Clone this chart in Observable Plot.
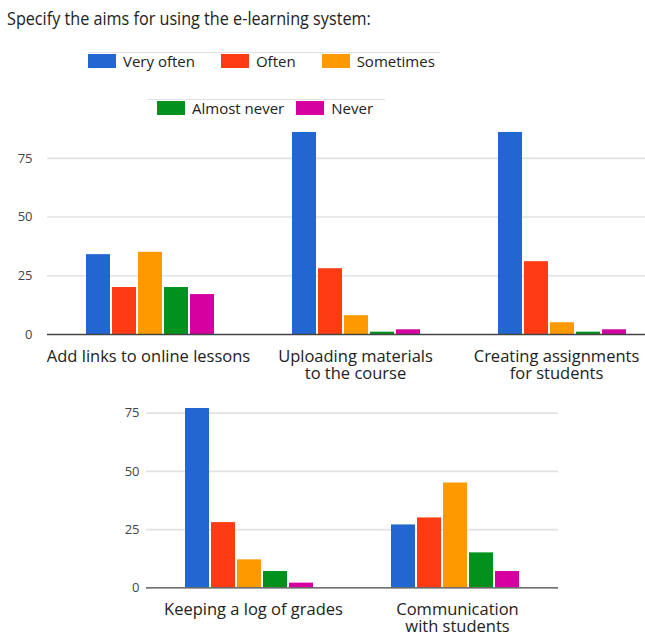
<!DOCTYPE html>
<html>
<head>
<meta charset="utf-8">
<script src="https://cdn.jsdelivr.net/npm/d3@7"></script>
<script src="https://cdn.jsdelivr.net/npm/@observablehq/plot@0.6"></script>
<style>
  body { margin: 0; width: 645px; height: 632px; overflow: hidden; position: relative; background: #fff; font-family: "Open Sans", sans-serif; color: #222; }
  #title { position: absolute; left: 7px; top: 5px; font-size: 18.5px; white-space: nowrap; transform: scaleX(0.875); transform-origin: left center; }
  .legend-row { position: absolute; display: flex; align-items: center; border-top: 1px solid #e0e0e0; font-size: 15px; white-space: nowrap; box-sizing: border-box; }
  .legend-item { display: flex; align-items: center; }
  .swatch { width: 28px; height: 14px; margin-right: 7px; }
  .panel { position: absolute; left: 0; }
</style>
</head>
<body>
<div id="title">Specify the aims for using the e-learning system:</div>
<div id="legend1" class="legend-row" style="left:88px; top:52px; width:352px; height:17px; gap:26px;"></div>
<div id="legend2" class="legend-row" style="left:148px; top:99px; width:237px; height:16px; gap:12px; padding-left:9px;"></div>
<div id="panelTop" class="panel" style="top:120px;"></div>
<div id="panelBottom" class="panel" style="top:390px;"></div>
<script>
// Answer options and their colours
const series = ["Very often", "Often", "Sometimes", "Almost never", "Never"];
const colors = ["#2166d1", "#ff3b14", "#ff9900", "#00921c", "#d5009f"];

// Aims, split across two panels (line breaks as they are set under the bars)
const aimsTop = ["Add links to online lessons", "Uploading materials\nto the course", "Creating assignments\nfor students"];
const aimsBottom = ["Keeping a log of grades", "Communication\nwith students"];

// Number of answers per option, in the order of aimsTop then aimsBottom
const veryOften   = [34, 86, 86, 77, 27];
const often       = [20, 28, 31, 28, 30];
const sometimes   = [35, 8, 5, 12, 45];
const almostNever = [20, 1, 1, 7, 15];
const never       = [17, 2, 2, 2, 7];

const yTicks = [0, 25, 50, 75];

const valuesBySeries = [veryOften, often, sometimes, almostNever, never];

function rowsFor(aims, offset) {
  const rows = [];
  aims.forEach((aim, i) => {
    series.forEach((s, j) => rows.push({aim, series: s, value: valuesBySeries[j][offset + i]}));
  });
  return rows;
}

function legendRow(el, names) {
  for (const name of names) {
    const item = document.createElement("div");
    item.className = "legend-item";
    const sw = document.createElement("div");
    sw.className = "swatch";
    sw.style.background = colors[series.indexOf(name)];
    const label = document.createElement("span");
    label.textContent = name;
    item.append(sw, label);
    el.append(item);
  }
}
legendRow(document.getElementById("legend1"), series.slice(0, 3));
legendRow(document.getElementById("legend2"), series.slice(3));

function panel(aims, data, o) {
  // one text mark per category label, so a label near the edge can be nudged inward
  const labels = aims.map((aim, i) => Plot.text([aim], {
    fx: d => d, text: d => d, frameAnchor: "bottom", lineAnchor: "top",
    dy: 15, dx: (o.labelDx && o.labelDx[i]) || 0,
    fontSize: 16.5, lineHeight: 1.05, fill: "#222"
  }));
  return Plot.plot({
    width: o.width,
    height: o.height,
    marginTop: o.marginTop,
    marginBottom: o.marginBottom,
    marginLeft: o.marginLeft,
    marginRight: o.marginRight,
    style: {fontFamily: "Open Sans, sans-serif", background: "transparent", maxWidth: "none", overflow: "visible"},
    fx: {domain: aims, padding: 0, label: null, axis: null},
    x: {domain: series, paddingInner: 0.06, paddingOuter: 1.4, axis: null},
    y: {domain: [0, o.yMax], label: null, axis: null},
    color: {domain: series, range: colors},
    marks: [
      Plot.ruleY(yTicks.slice(1), {stroke: "#e2e2e2", strokeWidth: 1.6}),
      Plot.barY(data, {fx: "aim", x: "series", y: "value", fill: "series"}),
      Plot.ruleY([0], {stroke: "#444", strokeWidth: 1.3}),
      Plot.axisY(yTicks, {tickSize: 0, tickPadding: o.yPad, fontSize: 13, fill: "#444", label: null}),
      ...labels
    ]
  });
}

document.getElementById("panelTop").append(panel(aimsTop, rowsFor(aimsTop, 0), {
  width: 666, height: 264, marginTop: 12, marginBottom: 50, marginLeft: 46, marginRight: 0, yMax: 86, yPad: 15,
  labelDx: [-2, -1, -6]
}));
document.getElementById("panelBottom").append(panel(aimsBottom, rowsFor(aimsBottom, 3), {
  width: 645, height: 242, marginTop: 11, marginBottom: 44.7, marginLeft: 146, marginRight: 87, yMax: 80, yPad: 7,
  labelDx: [4, 2]
}));
</script>
</body>
</html>
